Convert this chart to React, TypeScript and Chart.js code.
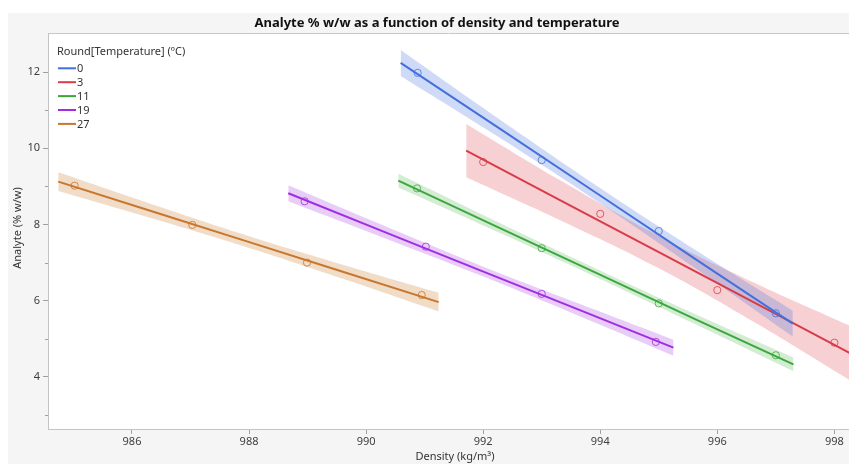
import React, { useEffect, useRef } from "react";
import { Chart, registerables } from "chart.js";

Chart.register(...registerables);

const TITLE = "Analyte % w/w as a function of density and temperature";
const X_TITLE = "Density (kg/m³)";
const Y_TITLE = "Analyte (% w/w)";
const LEGEND_TITLE = "Round[Temperature] (ºC)";

const TEMPS = ["0", "3", "11", "19", "27"];
const COLORS = ["#4470dc", "#d83c48", "#3aa83c", "#a02ee0", "#c8762c"];
const BAND_COLORS = [
  "rgba(68,112,220,0.26)",
  "rgba(216,60,72,0.24)",
  "rgba(58,168,60,0.22)",
  "rgba(160,46,224,0.24)",
  "rgba(200,118,44,0.26)",
];

const X_TICKS = [986, 988, 990, 992, 994, 996, 998];
const Y_TICKS = [3, 4, 5, 6, 7, 8, 9, 10, 11, 12];

// observed points
const PX_0 = [990.88, 993.0, 995.0, 997.0];
const PY_0 = [11.98, 9.69, 7.83, 5.67];
const PX_3 = [992.0, 994.0, 996.0, 998.0];
const PY_3 = [9.64, 8.28, 6.28, 4.9];
const PX_11 = [990.87, 993.0, 995.0, 997.0];
const PY_11 = [8.95, 7.38, 5.93, 4.57];
const PX_19 = [988.95, 991.02, 993.0, 994.95];
const PY_19 = [8.61, 7.42, 6.18, 4.92];
const PX_27 = [985.02, 987.03, 988.99, 990.95];
const PY_27 = [9.02, 7.99, 7.0, 6.15];

// fitted line and confidence band (read at five positions along each fit)
const BX_0 = [990.59, 992.27, 993.94, 995.62, 997.29];
const FIT_0 = [12.24, 10.53, 8.82, 7.1, 5.4];
const HI_0 = [12.58, 10.77, 9.02, 7.34, 5.74];
const LO_0 = [11.9, 10.29, 8.62, 6.86, 5.06];

const BX_3 = [991.71, 993.36, 995.0, 996.65, 998.3];
const FIT_3 = [9.94, 8.6, 7.275, 5.94, 4.6];
const HI_3 = [10.64, 9.12, 7.7, 6.46, 5.32];
const LO_3 = [9.24, 8.08, 6.85, 5.42, 3.88];

const BX_11 = [990.55, 992.24, 993.93, 995.62, 997.3];
const FIT_11 = [9.15, 7.94, 6.73, 5.52, 4.33];
const HI_11 = [9.33, 8.07, 6.84, 5.65, 4.51];
const LO_11 = [8.97, 7.81, 6.62, 5.39, 4.15];

const BX_19 = [988.67, 990.32, 991.96, 993.61, 995.25];
const FIT_19 = [8.82, 7.8, 6.79, 5.78, 4.77];
const HI_19 = [9.03, 7.96, 6.92, 5.94, 4.98];
const LO_19 = [8.61, 7.64, 6.66, 5.62, 4.56];

const BX_27 = [984.74, 986.365, 987.99, 989.615, 991.24];
const FIT_27 = [9.125, 8.335, 7.545, 6.755, 5.965];
const HI_27 = [9.37, 8.52, 7.7, 6.94, 6.21];
const LO_27 = [8.88, 8.15, 7.39, 6.57, 5.72];

const X_MIN = 984.565;
const X_MAX = 998.25;
const Y_MIN = 2.635;
const Y_MAX = 13.026;

const SERIES = [
  { px: PX_0, py: PY_0, bx: BX_0, fit: FIT_0, hi: HI_0, lo: LO_0 },
  { px: PX_3, py: PY_3, bx: BX_3, fit: FIT_3, hi: HI_3, lo: LO_3 },
  { px: PX_11, py: PY_11, bx: BX_11, fit: FIT_11, hi: HI_11, lo: LO_11 },
  { px: PX_19, py: PY_19, bx: BX_19, fit: FIT_19, hi: HI_19, lo: LO_19 },
  { px: PX_27, py: PY_27, bx: BX_27, fit: FIT_27, hi: HI_27, lo: LO_27 },
];

const FONT = '"Noto Sans", "Open Sans", sans-serif';

const zip = (xs: number[], ys: number[]) => xs.map((x, i) => ({ x, y: ys[i] }));

export default function App() {
  const ref = useRef<HTMLCanvasElement | null>(null);

  useEffect(() => {
    if (!ref.current) return;
    const datasets: any[] = [];
    SERIES.forEach((s, i) => {
      datasets.push({
        label: TEMPS[i] + " band hi",
        data: zip(s.bx, s.hi),
        borderWidth: 0,
        pointRadius: 0,
        tension: 0.4,
        fill: "+1",
        backgroundColor: BAND_COLORS[i],
        borderColor: "rgba(0,0,0,0)",
        order: 30,
      });
      datasets.push({
        label: TEMPS[i] + " band lo",
        data: zip(s.bx, s.lo),
        borderWidth: 0,
        pointRadius: 0,
        tension: 0.4,
        fill: false,
        borderColor: "rgba(0,0,0,0)",
        order: 30,
      });
    });
    SERIES.forEach((s, i) => {
      datasets.push({
        label: TEMPS[i],
        data: zip(s.bx, s.fit),
        borderColor: COLORS[i],
        borderWidth: 2,
        pointRadius: 0,
        fill: false,
        order: 20,
        isFit: true,
      });
    });
    SERIES.forEach((s, i) => {
      datasets.push({
        label: TEMPS[i] + " points",
        data: zip(s.px, s.py),
        showLine: false,
        pointRadius: 3.6,
        pointBorderWidth: 1,
        pointBorderColor: COLORS[i] + "cc",
        pointBackgroundColor: "rgba(0,0,0,0)",
        borderColor: COLORS[i],
        order: 10,
      });
    });

    const framePlugin = {
      id: "frame",
      beforeDraw(chart: any) {
        const { ctx, chartArea } = chart;
        ctx.save();
        ctx.fillStyle = "#ffffff";
        ctx.fillRect(0, 0, chart.width, chart.height);
        ctx.fillStyle = "#f5f5f5";
        ctx.fillRect(8, 13, chart.width - 8, chart.height - 13);
        ctx.fillStyle = "#ffffff";
        ctx.fillRect(chartArea.left, chartArea.top, chartArea.right - chartArea.left, chartArea.bottom - chartArea.top);
        ctx.strokeStyle = "#c8c8c8";
        ctx.lineWidth = 1;
        ctx.beginPath();
        ctx.moveTo(chartArea.left, chartArea.top + 0.5);
        ctx.lineTo(chart.width, chartArea.top + 0.5);
        ctx.stroke();
        ctx.restore();
      },
      afterDraw(chart: any) {
        const { ctx, chartArea, scales } = chart;
        ctx.save();
        // title
        ctx.fillStyle = "#111111";
        ctx.font = "bold 13px " + FONT;
        ctx.textAlign = "center";
        ctx.textBaseline = "middle";
        ctx.fillText(TITLE, 437, 23);
        // axis titles
        ctx.fillStyle = "#333333";
        ctx.font = "11px " + FONT;
        ctx.fillText(X_TITLE, 455, 457);
        ctx.save();
        ctx.translate(18, 228);
        ctx.rotate(-Math.PI / 2);
        ctx.fillText(Y_TITLE, 0, 0);
        ctx.restore();
        // minor y ticks
        ctx.strokeStyle = "#a0a0a0";
        ctx.lineWidth = 1;
        Y_TICKS.filter((v) => v % 2 !== 0).forEach((v) => {
          const y = Math.round(scales.y.getPixelForValue(v)) + 0.5;
          ctx.beginPath();
          ctx.moveTo(chartArea.left - 3, y);
          ctx.lineTo(chartArea.left, y);
          ctx.stroke();
        });
        // legend
        const lx = chartArea.left + 9;
        ctx.textAlign = "left";
        ctx.fillStyle = "#333333";
        ctx.font = "11px " + FONT;
        ctx.fillText(LEGEND_TITLE, lx, 51.5);
        const fits = chart.data.datasets.filter((d: any) => d.isFit);
        fits.forEach((d: any, i: number) => {
          const y = 68.3 + i * 13.9;
          ctx.strokeStyle = d.borderColor;
          ctx.lineWidth = 2;
          ctx.beginPath();
          ctx.moveTo(lx + 1, y);
          ctx.lineTo(lx + 19, y);
          ctx.stroke();
          ctx.fillStyle = "#333333";
          ctx.fillText(d.label, lx + 20, y + 0.5);
        });
        ctx.restore();
      },
    };

    const chart = new Chart(ref.current, {
      type: "line",
      data: { datasets },
      options: {
        animation: false,
        responsive: true,
        maintainAspectRatio: false,
        layout: { autoPadding: false, padding: { top: 33, left: 0, right: 0, bottom: 0 } },
        plugins: {
          legend: { display: false },
          title: { display: false },
          tooltip: { enabled: false },
        },
        scales: {
          x: {
            type: "linear",
            min: X_MIN,
            max: X_MAX,
            afterBuildTicks: (scale: any) => {
              scale.ticks = X_TICKS.map((v) => ({ value: v }));
            },
            afterFit: (scale: any) => {
              scale.height = 35;
              scale.paddingLeft = 0;
              scale.paddingRight = 0;
            },
            ticks: {
              color: "#404040",
              font: { family: FONT, size: 11 },
              padding: 1,
              maxRotation: 0,
              autoSkip: false,
              callback: (v: any) => String(v),
            },
            grid: {
              display: true,
              drawOnChartArea: false,
              drawTicks: true,
              tickLength: 5,
              tickColor: "#a0a0a0",
            },
            border: { display: true, color: "#c4c4c4", width: 1 },
          },
          y: {
            type: "linear",
            min: Y_MIN,
            max: Y_MAX,
            afterBuildTicks: (scale: any) => {
              scale.ticks = Y_TICKS.map((v) => ({ value: v }));
            },
            afterFit: (scale: any) => {
              scale.width = 48;
              scale.paddingTop = 0;
              scale.paddingBottom = 0;
            },
            ticks: {
              color: "#404040",
              font: { family: FONT, size: 11 },
              padding: 3,
              autoSkip: false,
              callback: (v: any) => (Number(v) % 2 === 0 ? String(v) : ""),
            },
            grid: {
              display: true,
              drawOnChartArea: false,
              drawTicks: true,
              tickLength: 5,
              tickColor: (c: any) => (c.tick && c.tick.value % 2 === 0 ? "#a0a0a0" : "rgba(0,0,0,0)"),
            },
            border: { display: true, color: "#c4c4c4", width: 1 },
          },
        },
      },
      plugins: [framePlugin],
    } as any);

    return () => chart.destroy();
  }, []);

  return (
    <div style={{ position: "absolute", left: 0, top: 0, width: 849, height: 464 }}>
      <canvas ref={ref} />
    </div>
  );
}
